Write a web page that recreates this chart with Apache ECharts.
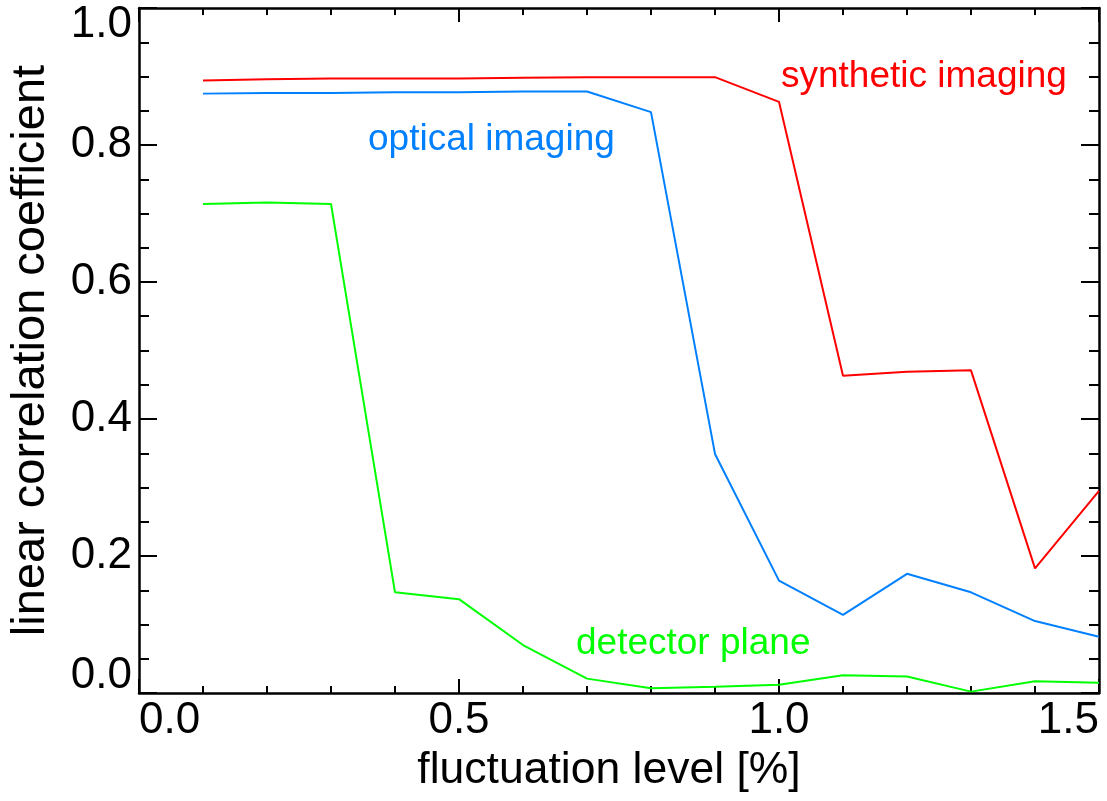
<!DOCTYPE html>
<html>
<head>
<meta charset="utf-8">
<script src="https://cdn.jsdelivr.net/npm/echarts@6/dist/echarts.min.js"></script>
<style>
html,body{margin:0;padding:0;background:#fff;}
#chart{width:1107px;height:801px;}
</style>
</head>
<body>
<div id="chart"></div>
<script>
// fluctuation level [%]
var fluctuation = [0.1, 0.2, 0.3, 0.4, 0.5, 0.6, 0.7, 0.8, 0.9, 1.0, 1.1, 1.2, 1.3, 1.4, 1.5];
// linear correlation coefficient per method
var synthetic = [0.894, 0.896, 0.897, 0.897, 0.897, 0.898, 0.899, 0.899, 0.899, 0.863, 0.463, 0.469, 0.471, 0.182, 0.295];
var optical   = [0.875, 0.876, 0.876, 0.877, 0.877, 0.878, 0.878, 0.848, 0.349, 0.164, 0.114, 0.174, 0.147, 0.105, 0.082];
var detector  = [0.714, 0.716, 0.714, 0.147, 0.137, 0.070, 0.021, 0.007, 0.009, 0.012, 0.026, 0.024, 0.002, 0.017, 0.015];
var seriesNames = ['synthetic imaging', 'optical imaging', 'detector plane'];
var xTicks = ['0.0', '0.5', '1.0', '1.5'];
var yTicks = ['0.0', '0.2', '0.4', '0.6', '0.8', '1.0'];

var FONT = '"Liberation Sans", Arial, Helvetica, sans-serif';
var colors = ['#ff0000', '#0080ff', '#00ff00'];

function pairs(ys) { return fluctuation.map(function (x, i) { return [x, ys[i]]; }); }

var chart = echarts.init(document.getElementById('chart'), null, {renderer: 'canvas'});

var axisLineStyle = {color: '#000', width: 2.5};
function xAxisCfg(show, pos) {
  return {
    type: 'value', position: pos, min: 0, max: 1.5, interval: 0.5,
    axisLine: {show: true, onZero: false, lineStyle: axisLineStyle},
    axisTick: {show: true, inside: true, length: 14, lineStyle: {color: '#000', width: 2}},
    minorTick: {show: true, splitNumber: 5, length: 7, lineStyle: {color: '#000', width: 2}},
    splitLine: {show: false},
    axisLabel: show ? {
      show: true, margin: 6, fontSize: 44, fontFamily: FONT, color: '#000',
      alignMinLabel: 'left', alignMaxLabel: 'right',
      formatter: function (v) { return xTicks[Math.round(v / 0.5)]; }
    } : {show: false},
    name: show ? 'fluctuation level [%]' : '',
    nameLocation: 'middle', nameGap: 52,
    nameTextStyle: {fontSize: 44.5, fontFamily: FONT, color: '#000', padding: [0, 20, 0, 0]}
  };
}
function yAxisCfg(show, pos) {
  return {
    type: 'value', position: pos, min: 0, max: 1.0, interval: 0.2,
    axisLine: {show: true, onZero: false, lineStyle: axisLineStyle},
    axisTick: {show: true, inside: true, length: 18, lineStyle: {color: '#000', width: 2}},
    minorTick: {show: true, splitNumber: 4, length: 10, lineStyle: {color: '#000', width: 2}},
    splitLine: {show: false},
    axisLabel: show ? {
      show: true, margin: 7, fontSize: 44, lineHeight: 34, fontFamily: FONT, color: '#000',
      verticalAlignMinLabel: 'bottom', verticalAlignMaxLabel: 'top',
      formatter: function (v) { return yTicks[Math.round(v / 0.2)]; }
    } : {show: false},
    name: show ? 'linear correlation coefficient' : '',
    nameLocation: 'middle', nameGap: 84, nameRotate: 90,
    nameTextStyle: {fontSize: 47, fontFamily: FONT, color: '#000'}
  };
}

var series = [synthetic, optical, detector].map(function (d, i) {
  return {
    name: seriesNames[i], type: 'line', data: pairs(d),
    xAxisIndex: 0, yAxisIndex: 0,
    showSymbol: false, symbol: 'none', animation: false,
    lineStyle: {color: colors[i], width: 2}
  };
});

chart.setOption({
  animation: false,
  backgroundColor: '#fff',
  grid: {left: 137, right: 8, top: 8, bottom: 108, containLabel: false},
  xAxis: [xAxisCfg(true, 'bottom'), xAxisCfg(false, 'top')],
  yAxis: [yAxisCfg(true, 'left'), yAxisCfg(false, 'right')],
  series: series,
  graphic: [
    {type: 'text', left: 781, top: 58, silent: true,
     style: {text: seriesNames[0], fill: colors[0], font: '37px ' + FONT}},
    {type: 'text', left: 368, top: 121, silent: true,
     style: {text: seriesNames[1], fill: colors[1], font: '37px ' + FONT}},
    {type: 'text', left: 576, top: 625, silent: true,
     style: {text: seriesNames[2], fill: colors[2], font: '37px ' + FONT}}
  ]
});
</script>
</body>
</html>
